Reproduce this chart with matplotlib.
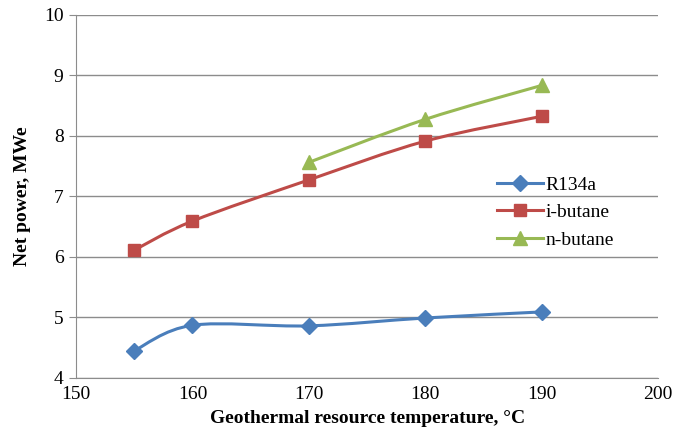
import numpy as np
import matplotlib
matplotlib.use("Agg")
import matplotlib.pyplot as plt
from matplotlib.path import Path
from matplotlib.patches import PathPatch
from matplotlib.lines import Line2D

plt.rcParams['font.family'] = ['Liberation Serif', 'DejaVu Serif']

x_r134a = [155, 160, 170, 180, 190]
y_r134a = [4.45, 4.87, 4.86, 4.99, 5.09]
x_ibut = [155, 160, 170, 180, 190]
y_ibut = [6.11, 6.59, 7.27, 7.91, 8.32]
x_nbut = [170, 180, 190]
y_nbut = [7.56, 8.27, 8.83]

xticks = [150, 160, 170, 180, 190, 200]
yticks = [4, 5, 6, 7, 8, 9, 10]

series = [
    ("R134a", x_r134a, y_r134a, "#4A7EBB", "D", 8),
    ("i-butane", x_ibut, y_ibut, "#BE4B48", "s", 9),
    ("n-butane", x_nbut, y_nbut, "#98B954", "^", 10),
]


def smooth_path(xs, ys):
    pts = np.column_stack([xs, ys]).astype(float)
    n = len(pts)
    verts = [pts[0]]
    codes = [Path.MOVETO]
    for i in range(n - 1):
        p0 = pts[i - 1] if i > 0 else pts[i]
        p1 = pts[i]
        p2 = pts[i + 1]
        p3 = pts[i + 2] if i + 2 < n else pts[i + 1]
        c1 = p1 + (p2 - p0) / 6.0
        c2 = p2 - (p3 - p1) / 6.0
        verts += [c1, c2, p2]
        codes += [Path.CURVE4] * 3
    return Path(verts, codes)


fig = plt.figure(figsize=(6.73, 4.41), dpi=100)
ax = fig.add_axes([0.113, 0.143, 0.865, 0.824])

handles = []
for name, xs, ys, col, mk, ms in series:
    patch = PathPatch(smooth_path(xs, ys), facecolor='none', edgecolor=col, lw=2.2, zorder=3)
    ax.add_patch(patch)
    ax.plot(xs, ys, linestyle='none', marker=mk, color=col, markersize=ms, zorder=4)
    handles.append(Line2D([0], [0], color=col, lw=2.2, marker=mk, markersize=ms))

ax.set_xlim(150, 200)
ax.set_ylim(4, 10)
ax.set_xticks(xticks)
ax.set_yticks(yticks)
ax.yaxis.grid(True, color='#8C8C8C', lw=1.0)
ax.set_axisbelow(True)
for s in ['top', 'right']:
    ax.spines[s].set_visible(False)
for s in ['left', 'bottom']:
    ax.spines[s].set_color('#8C8C8C')
ax.tick_params(axis='y', length=5, color='#8C8C8C', labelsize=14, pad=4)
ax.tick_params(axis='x', length=0, labelsize=14, pad=6)
ax.set_xlabel('Geothermal resource temperature, °C', fontsize=14, fontweight='bold', labelpad=5)
ax.set_ylabel('Net power, MWe', fontsize=14, fontweight='bold', labelpad=9)

leg = fig.legend(handles, [s[0] for s in series], loc='upper left',
                 bbox_to_anchor=(0.712, 0.64), frameon=False, fontsize=14,
                 handlelength=2.4, labelspacing=0.5, handletextpad=0.1)

fig.savefig('out.png', dpi=100)
